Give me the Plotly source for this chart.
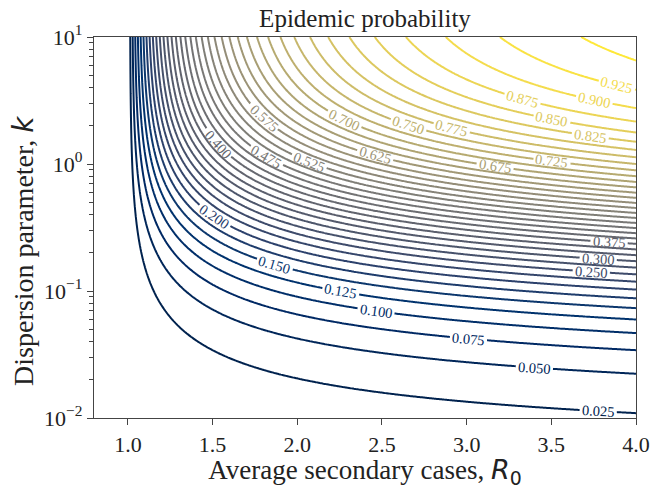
import numpy as np
import plotly.graph_objects as go

# Axis grids (reproduction number R0 and dispersion parameter k)
r0_values = np.linspace(0.8, 4.0, 320)
k_values = np.logspace(-2, 1, 320)

# contour levels shown
level_start = 0.025
level_end = 0.975
level_step = 0.025

# inline contour labels: level and the R0 at which its label sits
label_levels = [0.025, 0.050, 0.075, 0.100, 0.125, 0.150, 0.200, 0.250, 0.300, 0.375,
                0.400, 0.475, 0.525, 0.575, 0.625, 0.675, 0.700, 0.725, 0.750, 0.775,
                0.825, 0.850, 0.875, 0.900, 0.925]
label_r0 = [3.777, 3.400, 3.011, 2.465, 2.257, 1.868, 1.514, 3.736, 3.777, 3.841,
            1.537, 1.821, 2.071, 1.804, 2.460, 3.168, 2.280, 3.504, 2.657, 2.912,
            3.730, 3.504, 3.330, 3.754, 3.887]

x_tick_vals = [1.0, 1.5, 2.0, 2.5, 3.0, 3.5, 4.0]
x_tick_text = ["1.0", "1.5", "2.0", "2.5", "3.0", "3.5", "4.0"]
y_tick_vals = [0.01, 0.1, 1, 10]
y_tick_text = ["10<sup>\u22122</sup>", "10<sup>\u22121</sup>", "10<sup>0</sup>", "10<sup>1</sup>"]


def epidemic_prob(R, K, n_iter=4000):
    # extinction probability q solves q = (1 + R0 (1-q)/k)^(-k)
    q = np.zeros_like(R, dtype=float)
    for _ in range(n_iter):
        q = (1.0 + R * (1.0 - q) / K) ** (-K)
    p = 1.0 - q
    p[R <= 1.0] = 0.0
    return p


R, K = np.meshgrid(r0_values, k_values)
prob = epidemic_prob(R, K)

k_fine = np.logspace(-2.5, 1.5, 1500)


def logk_on_level(r0_arr, level):
    r0_arr = np.atleast_1d(np.asarray(r0_arr, dtype=float))
    RR, KK = np.meshgrid(r0_arr, k_fine)
    P = epidemic_prob(RR, KK, 3000)
    return np.array([np.interp(level, P[:, j], np.log10(k_fine)) for j in range(len(r0_arr))])


cividis = [
    "rgb(0,34,78)", "rgb(0,42,102)", "rgb(0,52,110)", "rgb(39,63,108)",
    "rgb(60,74,107)", "rgb(76,85,107)", "rgb(91,95,109)", "rgb(104,106,112)",
    "rgb(117,117,117)", "rgb(131,129,120)", "rgb(146,140,120)", "rgb(161,152,118)",
    "rgb(176,165,114)", "rgb(192,177,109)", "rgb(209,191,102)", "rgb(225,204,92)",
    "rgb(243,219,79)", "rgb(254,232,56)",
]
cs = [[i / (len(cividis) - 1), c] for i, c in enumerate(cividis)]


def color_at(v):
    t = (v - level_start) / (level_end - level_start)
    t = min(max(t, 0), 1) * (len(cividis) - 1)
    i = int(np.floor(t)); i2 = min(i + 1, len(cividis) - 1); f = t - i
    a = [int(s) for s in cividis[i][4:-1].split(",")]
    b = [int(s) for s in cividis[i2][4:-1].split(",")]
    c = [round(a[j] + (b[j] - a[j]) * f) for j in range(3)]
    return "rgb(%d,%d,%d)" % tuple(c)


fig = go.Figure()
fig.add_trace(go.Contour(
    x=r0_values, y=k_values, z=prob,
    zmin=level_start, zmax=level_end,
    contours=dict(start=level_start, end=level_end, size=level_step,
                  coloring="lines", showlabels=False),
    colorscale=cs, showscale=False,
    line=dict(width=2), hoverinfo="skip",
))

# pixel scales of the plot area
W_PX, H_PX = 662 - 94 - 16, 489 - 37 - 62
px_per_r0 = W_PX / (4.0 - 0.8)
px_per_dec = H_PX / 3.0
half_len_px = 19

annotations = []
for lev, r0 in zip(label_levels, label_r0):
    d = 0.01
    lk = logk_on_level([r0 - d, r0, r0 + d], lev)
    dx = 2 * d * px_per_r0
    dy = -(lk[2] - lk[0]) * px_per_dec
    ang = np.degrees(np.arctan2(dy, dx))
    cosang = np.cos(np.radians(ang))
    span = half_len_px * cosang / px_per_r0
    seg_r0 = np.linspace(r0 - span, r0 + span, 15)
    seg_lk = logk_on_level(seg_r0, lev)
    fig.add_trace(go.Scatter(x=seg_r0, y=10 ** seg_lk, mode="lines",
                             line=dict(color="white", width=5), hoverinfo="skip",
                             showlegend=False))
    annotations.append(dict(x=r0, y=lk[1], xref="x", yref="y", text="%.3f" % lev,
                            showarrow=False, textangle=ang,
                            font=dict(family="Liberation Serif", size=14.5, color=color_at(lev)),
                            xanchor="center", yanchor="middle"))

# y-axis title placed as annotation
annotations.append(dict(text="Dispersion parameter, <span style='font-family:DejaVu Sans'><i>k</i></span>",
                        x=-0.13, y=0.44, xref="paper", yref="paper", showarrow=False,
                        textangle=-90, xanchor="center", yanchor="middle",
                        font=dict(family="Liberation Serif", size=28, color="#222")))

axis_common = dict(showgrid=False, zeroline=False, showline=True, mirror=True,
                   linecolor="#444", linewidth=1.2, ticks="outside",
                   ticklen=6, tickwidth=1.2, tickcolor="#444",
                   tickfont=dict(family="Liberation Serif", size=22, color="#222"))

fig.update_layout(
    width=662, height=489,
    margin=dict(l=94, r=16, t=37, b=62),
    paper_bgcolor="white", plot_bgcolor="white",
    showlegend=False,
    annotations=annotations,
    title=dict(text="Epidemic probability", x=0.5, xanchor="center",
               y=0.963, yanchor="middle", xref="paper",
               font=dict(family="Liberation Serif", size=25, color="#222")),
    xaxis=dict(range=[0.8, 4.0], tickvals=x_tick_vals, ticktext=x_tick_text,
               title=dict(text="Average secondary cases, <span style='font-family:DejaVu Sans'><i>R</i><sub>0</sub></span>",
                          font=dict(family="Liberation Serif", size=27, color="#222"), standoff=2),
               **axis_common),
    yaxis=dict(type="log", range=[-2, 1], tickvals=y_tick_vals, ticktext=y_tick_text,
               minor=dict(ticks="outside", ticklen=3.5, tickcolor="#444", tickwidth=1,
                          tickvals=[m * 10.0 ** e for e in (-2, -1, 0) for m in range(2, 10)]),
               **axis_common),
)

fig.write_html("out.html")
